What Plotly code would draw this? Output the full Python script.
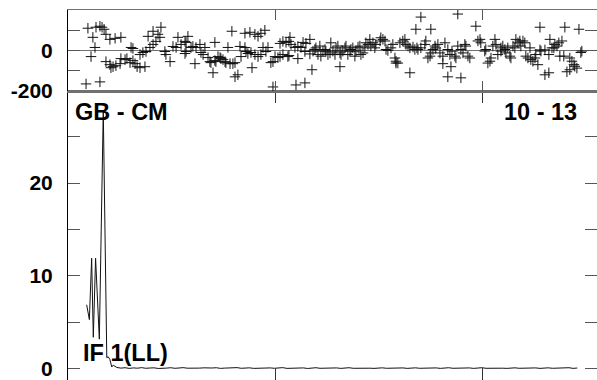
import plotly.graph_objects as go

# ---- Phase panel (top): channel vs phase (deg) ----
phase_x = [9.6, 8.7, 11.1, 12.0, 13.0, 13.5, 15.4, 15.4, 16.4, 17.4, 18.3, 18.3, 20.2, 20.2, 20.7,
           21.7, 22.7, 23.1, 25.1, 25.5, 25.5, 27.5, 28.4, 29.9, 30.4, 31.3, 31.3, 32.3, 33.3, 34.7,
           34.7, 36.1, 37.1, 37.6, 38.6, 39.5, 41.0, 41.0, 42.4, 43.4, 44.3, 44.8, 46.7, 47.2, 49.2,
           50.6, 52.1, 53.0, 54.5, 56.4, 56.9, 57.8,
           56.9, 59.3, 60.2, 61.7, 63.6, 64.1, 65.1, 66.0, 56.4, 61.2, 67.5, 68.4, 68.9, 69.9, 70.8,
           70.8, 71.3, 72.3, 73.3, 73.7, 74.7, 75.7, 76.1, 77.1, 78.1, 79.0, 79.5, 80.5, 80.5, 81.9,
           82.9, 83.4, 85.3, 85.3, 85.8, 86.7, 87.7, 88.2, 88.7, 90.1, 90.1, 91.6, 91.6, 93.0, 93.0,
           94.0, 94.9, 95.4, 96.4, 97.8, 98.8, 98.8, 99.8, 101.2, 102.2, 102.2, 103.6, 103.6, 105.1,
           106.0, 107.0, 107.5,
           106.5, 106.5, 109.4, 109.9, 110.8, 110.8, 112.3, 113.3, 114.2, 114.2, 114.7, 116.6, 116.6,
           117.6, 118.1, 119.0, 119.5, 120.5, 121.4, 121.9, 122.9, 123.9, 124.3, 125.3, 126.3, 126.7,
           127.7, 128.7, 129.2, 130.1, 131.1, 131.1, 131.6, 132.5, 133.5, 134.0, 134.9, 135.9, 136.4,
           137.3, 138.3, 138.8, 139.8, 140.7, 141.2, 142.2, 143.1, 143.6, 144.6, 145.5, 146.0, 147.0,
           147.9, 148.4, 150.4, 150.8, 151.8, 152.8, 153.3, 154.2, 155.7, 156.6, 157.6, 158.1,
           158.1, 159.0, 160.0, 161.4, 162.4, 162.9, 163.9, 164.8, 164.8, 166.3, 167.2, 167.7, 168.2,
           168.7, 170.1, 170.1, 172.0, 172.5, 173.5, 174.5, 174.9, 174.9, 175.9, 176.9, 177.3, 178.3,
           179.3, 180.7, 180.7, 181.7, 183.1, 183.1, 184.1, 184.6, 185.1, 187.0, 186.5, 187.9, 187.9,
           189.4, 189.4, 190.4, 191.3, 191.8, 192.8, 193.7, 196.6, 197.6, 198.6, 199.0, 200.9, 201.4,
           202.4, 203.4, 203.9, 204.8, 205.8, 206.3, 207.2, 208.7,
           208.7, 209.6, 210.6, 211.1, 212.0, 213.0, 213.5, 214.5, 215.4, 215.9, 216.9, 217.8, 218.3,
           219.3, 220.2, 220.7, 221.7, 222.7, 223.1, 224.1, 225.1, 225.5, 226.5, 227.5, 227.5, 228.0,
           229.9, 229.9, 231.8, 231.8, 232.3, 233.3, 234.2, 234.7, 235.7, 236.6, 237.1, 238.1, 239.0,
           239.5, 240.5, 241.9, 241.9, 242.9, 243.9, 244.3, 245.3, 246.3, 247.2, 247.7]
phase_y = [110, -165, -30, 65, 15, 115, 120, -155, 115, 105, 80, -55, 55, -70, -85,
           -80, 60, -75, -65, 65, -40, -45, -40, -60, 15, 10, -50, -65, -80, -85,
           -20, -10, -80, -5, 70, 15, 30, 95, 45, 80, 65, 115, -5, -20, -55,
           20, 15, 65, 30, 45, -5, 70,
           40, 15, 20, 15, 30, -10, -20, 15, -15, -65, -35, -55, -60, -110, -50,
           40, -55, -30, -35, -40, -45, -55, -60, 15, -65, 95, -65, -60, -130, -120,
           20, -30, 15, 85, -5, -15, 90, -10, -85, 80, -20, 70, -30, 85, -20,
           15, 100, -5, 15, -60, -55, -180, -30, -35, -30, 35, -20, 45, 40,
           -30, 65, 30,
           45, -25, 15, -170, 20, -40, 15, 40, -5, -160, 35, 55, -17,
           -95, -3, 5, 13, -20, 22, -28, -3, 5, -3, -20, -12, 38,
           -3, -20, 13, 22, -12, -80, -20, -3, 13, 22, -20, -3, 5,
           13, -28, -3, 17, 22, -20, -12, 13, 38, 30, 55, 22, 38,
           13, 30, 47, 63, 55, 47, 5, 0, 13, 30, -37, -62,
           -53, -62, 38, 47, 55, 30, 22, 13, -110, 17, 5, 105, 13,
           5, 13, 165, 30, 47, -37, -28, 105, -12, 5, 22, 13, 30,
           -12, -28, -65, 38, 5, -130, -20, -80, -3, -37, -28, 180, 22,
           5, -135, -12, 30, 22, -28, -37, 120, 47, 55, 38, -3, 5,
           -62, -53, -37, 22, 55, 30, -20, 13,
           -3, 22, 5, -12, 13, -28, -37, 22, 13, 55, 38, 47, 22,
           47, 38, -28, -37, 13, -45, -53, -37, -20, -70, 115, 3, -3,
           3, -120, -110, -20, 55, 13, 13, 30, 22, 38, -28, 47, -28,
           115, -105, -95, -37, -53, -70, -78, -87, 105, -10, -3]

# ---- Amplitude panel (bottom) ----
amp_x_peak = [9.0, 10.3, 11.4, 12.2, 13.3, 15.1, 17.0, 18.7, 19.4, 20.2, 21.1, 21.8]
amp_y_peak = [6.9, 5.3, 11.9, 3.4, 11.9, 3.2, 27.8, 1.2, 1.3, 1.0, 0.2, 0.4]
amp_tail = [0.15, 0.08, 0.12, 0.05, 0.1, 0.07, 0.13, 0.06, 0.09, 0.11, 0.04, 0.1, 0.08, 0.12,
            0.06, 0.09, 0.13, 0.07, 0.05, 0.1, 0.08, 0.11, 0.06, 0.09, 0.12, 0.05, 0.08, 0.1,
            0.07, 0.13, 0.06, 0.09, 0.11, 0.05, 0.08, 0.12, 0.07, 0.1, 0.06, 0.09, 0.13, 0.05,
            0.08, 0.11, 0.07, 0.1, 0.04, 0.09, 0.12, 0.06, 0.08, 0.11, 0.07, 0.1, 0.05, 0.09,
            0.12, 0.06, 0.08, 0.1, 0.13, 0.07, 0.05, 0.09, 0.11, 0.06, 0.08, 0.12, 0.07, 0.1,
            0.05, 0.09, 0.11, 0.06, 0.08, 0.13, 0.07, 0.1, 0.05, 0.09, 0.12, 0.06, 0.08, 0.11,
            0.07, 0.1, 0.05, 0.09, 0.12, 0.06, 0.08, 0.1, 0.13, 0.07, 0.05, 0.09, 0.11, 0.06,
            0.08, 0.12, 0.07, 0.1, 0.05, 0.09, 0.11, 0.06, 0.08, 0.1, 0.07, 0.12, 0.05, 0.09]
tail_start, tail_step = 23.5, 2.0
amp_x = amp_x_peak + [tail_start + tail_step * i for i in range(len(amp_tail))]
amp_y = amp_y_peak + amp_tail

label_baseline = "GB - CM"
label_antennas = "10 - 13"
label_if = "IF 1(LL)"

FONT = dict(family="Liberation Sans, Arial, sans-serif", size=21, color="black", weight="bold")
ANN_FONT = dict(FONT, size=23.5)
GRAY = "#707070"

W, H = 597, 380
ML, MT = 68, 10
PW, PH = W - ML, H - MT  # 529 x 370


def px_x(px):
    return (px - ML) / PW


def px_y(py):
    return (H - py) / PH


fig = go.Figure()
fig.add_trace(go.Scatter(x=phase_x, y=phase_y, mode="markers", xaxis="x2", yaxis="y2",
                         marker=dict(symbol="cross-thin", size=7.5, color="#111",
                                     line=dict(width=1, color="#111")),
                         showlegend=False, hoverinfo="skip"))
fig.add_trace(go.Scatter(x=amp_x, y=amp_y, mode="lines", xaxis="x", yaxis="y",
                         line=dict(color="#111", width=1), showlegend=False, hoverinfo="skip"))

split = px_y(91)

fig.update_layout(
    width=W, height=H,
    margin=dict(l=ML, r=0, t=MT, b=0, autoexpand=False),
    paper_bgcolor="white", plot_bgcolor="white",
    font=FONT,
    showlegend=False,
    xaxis=dict(domain=[0, 1], anchor="y", range=[0, 255], showticklabels=False,
               tickvals=[0, 100, 200], ticks="inside", ticklen=12, tickcolor="#333",
               showline=True, linecolor=GRAY, linewidth=1, mirror="ticks",
               showgrid=False, zeroline=False, automargin=False),
    yaxis=dict(domain=[0, split], anchor="x", range=[-1.2, 29.9],
               tickvals=[0, 10, 20], ticktext=["0", "10", "20"], ticks="inside", ticklen=12,
               tickcolor="#555", showline=True, linecolor="black", linewidth=1, mirror="ticks",
               showgrid=False, zeroline=False, ticklabelstandoff=10, automargin=False,
               ticklabeloverflow="allow",
               minor=dict(tickvals=[5, 15, 25], ticks="inside", ticklen=12, tickcolor="#555",
                          showgrid=False)),
    xaxis2=dict(domain=[0, 1], anchor="y2", range=[0, 255], matches="x", showticklabels=False,
                tickvals=[0, 100, 200], ticks="inside", ticklen=10, tickcolor="#555",
                showline=True, linecolor=GRAY, linewidth=1.5, mirror="ticks",
                showgrid=False, zeroline=False, automargin=False),
    yaxis2=dict(domain=[split, 1], anchor="x2", range=[-200, 200],
                tickvals=[-200, 0, 200], ticktext=["-200", "0", ""], ticks="inside", ticklen=12,
                tickcolor="#555", showline=True, linecolor="black", linewidth=1, mirror="ticks",
                showgrid=False, zeroline=True, zerolinecolor=GRAY, zerolinewidth=1.5,
                ticklabelstandoff=10, automargin=False, ticklabeloverflow="allow",
                minor=dict(tickvals=[-100, 100], ticks="inside", ticklen=12, tickcolor="#555",
                           showgrid=False)),
    annotations=[
        dict(text=label_baseline, xref="paper", yref="paper", x=px_x(73),
             y=px_y(112), xanchor="left", yanchor="middle", showarrow=False, font=ANN_FONT),
        dict(text=label_antennas, xref="paper", yref="paper", x=px_x(579),
             y=px_y(112), xanchor="right", yanchor="middle", showarrow=False, font=ANN_FONT),
        dict(text=label_if, xref="paper", yref="paper", x=px_x(81),
             y=px_y(353), xanchor="left", yanchor="middle", showarrow=False, font=ANN_FONT),
    ],
)

# remove the browser's default 8px page margin so the figure fills the window exactly
fig.write_html("out.html",
               config={"displayModeBar": False, "staticPlot": True},
               post_script="document.body.style.margin='0';"
                           "document.documentElement.style.overflow='hidden';")
